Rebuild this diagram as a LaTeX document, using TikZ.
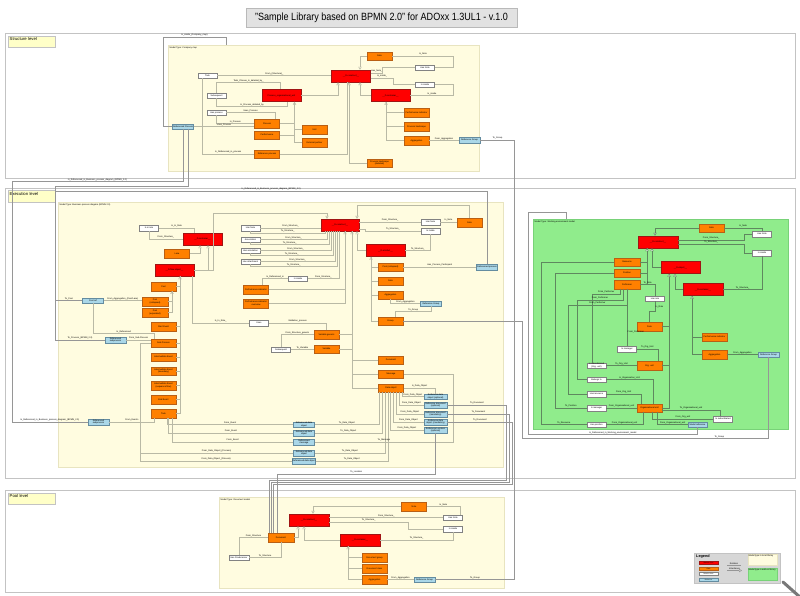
\documentclass[tikz,border=0pt]{standalone}
\usepackage{fontspec}
\usepackage{graphicx}
\setmainfont{Liberation Sans}
\usetikzlibrary{arrows.meta,shadows}

\definecolor{clsred}{RGB}{255,0,0}
\definecolor{clsline}{RGB}{160,20,20}
\definecolor{rclorange}{RGB}{255,128,0}
\definecolor{rclline}{RGB}{185,95,20}
\definecolor{relline}{RGB}{130,130,130}
\definecolor{refblue}{RGB}{170,215,232}
\definecolor{refline}{RGB}{100,140,160}
\definecolor{mtyellow}{RGB}{255,252,224}
\definecolor{mtline}{RGB}{232,228,192}
\definecolor{mtgreen}{RGB}{144,236,140}
\definecolor{mtgreenline}{RGB}{120,210,120}
\definecolor{linkgray}{RGB}{185,185,165}
\definecolor{glinkgray}{RGB}{95,135,95}
\definecolor{xlinkgray}{RGB}{150,150,150}
\definecolor{panelline}{RGB}{195,195,195}
\definecolor{lvlyellow}{RGB}{255,255,200}
\definecolor{titlegray}{RGB}{226,226,226}
\definecolor{titleline}{RGB}{185,185,185}
\definecolor{legendgray}{RGB}{215,215,215}
\definecolor{handlegray}{RGB}{120,120,120}

\newcommand\nano{\fontsize{2.2}{2.6}\selectfont}
\newcommand\mini{\fontsize{4.2}{5}\selectfont}

\begin{document}
\begin{tikzpicture}[x=1pt, y=-1pt]
	\tikzstyle{shade} = [drop shadow={shadow xshift=0.7pt, shadow yshift=-0.7pt, opacity=0.5, fill=black!50}];
	\tikzstyle{cls}  = [shade, draw=clsline, fill=clsred, minimum width=39pt, minimum height=12pt, inner sep=0pt, align=center, font={\nano}];
	\tikzstyle{rcl}  = [shade, draw=rclline, fill=rclorange, minimum width=25pt, minimum height=8.5pt, inner sep=0pt, align=center, font={\nano}];
	\tikzstyle{rel}  = [shade, draw=relline, fill=white, minimum width=19pt, minimum height=5.5pt, inner sep=0pt, align=center, font={\nano}];
	\tikzstyle{refn} = [shade, draw=refline, fill=refblue, minimum width=21pt, minimum height=5.5pt, inner sep=0pt, align=center, font={\nano}];
	\tikzstyle{link} = [draw=linkgray, line width=0.45pt];
	\tikzstyle{glink} = [draw=glinkgray, line width=0.45pt];
	\tikzstyle{xlink} = [draw=xlinkgray, line width=0.45pt];
	\tikzstyle{isa}  = [link, -{Triangle[open, length=3pt, width=3.4pt]}];
	\tikzstyle{gisa} = [glink, -{Triangle[open, length=3pt, width=3.4pt, fill=white]}];
	\tikzstyle{rl}   = [font={\nano}, inner sep=0.5pt, above];
	\tikzstyle{panel} = [draw=panelline, fill=white, line width=0.6pt];
	\tikzstyle{mtype} = [draw=mtline, fill=mtyellow];
	\tikzstyle{mtname} = [anchor=north west, inner sep=0.5pt, font={\nano}];
	\tikzstyle{lvl}  = [draw=panelline, fill=lvlyellow, anchor=north west, text width=44pt, text height=3pt, text depth=5.5pt, inner sep=1.5pt, align=left, font={\mini}];
	\tikzstyle{title} = [draw=titleline, fill=titlegray, minimum width=271pt, minimum height=19pt, inner sep=0pt, font={\fontsize{10.5}{12}\selectfont}];

	\useasboundingbox (0,0) rectangle (800,596);
	\fill[white] (0,0) rectangle (800,596);

	\node[title] (title) at (381.5,17.5) {\scalebox{0.86}[1]{"Sample Library based on BPMN 2.0" for ADOxx 1.3UL1 - v.1.0}};

	\draw[panel] (5,33) rectangle (795,178);
	\draw[panel] (5,188) rectangle (795,478);
	\draw[panel] (5,490) rectangle (795,592);
	\node[lvl] (lvlS) at (8,36) {Structure level};
	\node[lvl] (lvlE) at (8,190.5) {Execution level};
	\node[lvl] (lvlP) at (8,492.5) {Pool level};

	\draw[mtype] (168,45) rectangle (479,171);
	\draw[mtype] (58,202) rectangle (503,467);
	\draw[draw=mtgreenline, fill=mtgreen] (533,219) rectangle (788,429);
	\draw[mtype] (219,497) rectangle (504,588);
	\node[mtname] (mtS) at (169,46) {Model Type: Company map};
	\node[mtname] (mtE) at (59,203) {Model Type: Business process diagram (BPMN 2.0)};
	\node[mtname] (mtG) at (534,220) {Model Type: Working environment model};
	\node[mtname] (mtP) at (220,498) {Model Type: Document model};

	% structure level
	\node[rcl] (sNote) at (379.5,56) {Note};
	\node[cls] (sA) at (351,76) {\_\_D-construct\_\_};
	\node[rel] (sSee) at (425,67.5) {Has Note};
	\node[rel] (sIns) at (425,84.5) {Is inside};
	\node[cls] (sB) at (281.5,95.5) {Process\_organisational\_unit};
	\node[cls] (sC) at (390.5,95.5) {\_\_D-container\_\_};
	\node[rel] (sTask) at (207.5,75.5) {Task};
	\node[rel] (sRep) at (216.5,95.5) {Subsequent};
	\node[rel] (sHas) at (216.5,112.5) {Has process};
	\node[refn] (sRef) at (183,126.5) {Referenced Process};
	\node[rcl] (sProc) at (267,123.5) {Process};
	\node[rcl] (sLand) at (267,135) {Performance};
	\node[rcl] (sUnit) at (314.5,129.5) {Unit};
	\node[rcl] (sExt) at (314.5,142.5) {External partner};
	\node[rcl] (sRefl) at (267,154) {Reference process};
	\node[rcl] (sDesc) at (379.5,163) {Process landscape\\(detailed)};
	\node[rcl] (sOr6) at (416.5,112.5) {Performance indicator};
	\node[rcl] (sOr7) at (416.5,126.5) {Process landscape};
	\node[rcl] (sOr8) at (416.5,140.5) {Aggregation};
	\node[refn] (sGrp) at (469.5,140) {Reference Group};
	\coordinate (sTop) at (226,45);

	\draw[isa] (sNote.west) -| ([xshift=9pt]sA.north);
	\draw[link] ([yshift=3pt]sA.east) -- node[rl]{Has\_Note\_} ++(12,0) |- (sSee.west);
	\draw[link] (sSee.east) -- ++(19,0) |- node[rl,pos=0.75]{Is\_Note} (sNote.east);
	\draw[link] ([yshift=-2pt]sA.east) -- node[rl]{Is\_inside\_} ++(23,0) |- (sIns.west);
	\draw[link] (sIns.east) -- ++(19,0) |- node[rl,pos=0.75]{Is\_inside} (sC.east);
	\draw[isa] (sC.west) -| ([xshift=9pt]sA.south);
	\draw[isa] (sB.east) -| ([xshift=-13pt]sA.south);
	\draw[isa] (sDesc.west) -| ([xshift=-2pt]sA.south);
	\draw[link] (sRefl.east) -| ([xshift=-4pt]sA.south);
	\draw[link] (sTask.east) -- node[rl]{From\_(Structure)\_} (sTask.east -| sA.west);
	\draw[link] ([xshift=-5.5pt]sTask.south) |- node[rl,pos=0.75]{Is\_Referenced\_in\_process} (sRefl.west);
	\draw[link] (sRep.north) -- ++(0,-10) -| node[rl,pos=0.25]{Task\_Choose\_Is\_detailed\_by\_} ([xshift=-1pt]sB.north);
	\draw[link] (sRep.south) -- ++(0,8) -| node[rl,pos=0.25]{Is\_Process\_detailed\_by} ([xshift=6pt]sB.south);
	\draw[link] (sHas.east) -| node[rl,pos=0.25]{Uses\_Process} ([xshift=8pt]sProc.north);
	\draw[link] (sHas.south) |- node[rl,pos=0.75]{Is\_Process} (sProc.west);
	\draw[link] (sRef.east) -- node[rl]{Uses\_Process} (sRef.east -| sProc.west);
	\draw[link] (sProc.east) -| ([xshift=13pt]sB.south);
	\draw[link] (sLand.east) -| ([xshift=13pt]sB.south);
	\draw[link] (sUnit.west) -| ([xshift=13pt]sB.south);
	\draw[isa] (sExt.west) -| ([xshift=13pt]sB.south);
	\draw[link] (sOr6.west) -| ([xshift=-4.5pt]sC.south);
	\draw[link] (sOr7.west) -| ([xshift=-4.5pt]sC.south);
	\draw[isa] (sOr8.west) -| ([xshift=-4.5pt]sC.south);
	\draw[link] (sOr8.east) -- node[rl]{From\_Aggregation} (sOr8.east -| sGrp.west);
	\draw[xlink] (sRef.west) -| (163,37) -| node[rl,pos=0.25]{Is\_inside\_(Company\_map)} (sTop);

	% execution level
	\node[rel] (eW1) at (149,228) {Is in role};
	\node[cls] (eD) at (202.5,239) {\_\_D-container\_\_};
	\node[rcl] (eOr1) at (177,253.5) {Lane};
	\node[cls] (eE) at (174.5,270) {\_\_D-flow-object\_\_};
	\node[rcl] (eOr2) at (163.5,286.5) {Pool};
	\node[rcl, minimum width=26pt] (eOr3) at (155,301.5) {Pool\\(collapsed)};
	\node[rcl, minimum width=26pt] (eOr4) at (155,312.5) {Pool\\(expanded)};
	\foreach \n/\y/\t in {5/326.5/{Start Event}, 6/343/{Sub-Process}, 7/357/{Intermediate Event}, 8/371/{Intermediate Event\\(boundary)}, 9/385.5/{Intermediate Event\\(sequence flow)}, 10/399.5/{End Event}, 11/413.5/{Task}}
		\node[rcl] (eOr\n) at (163.5,\y) {\t};
	\node[refn] (eRef1) at (93,300.5) {Pool ref};
	\node[refn] (eRef2) at (115.5,340) {Referenced\\subprocess};
	\node[refn] (eRef3) at (98.5,422) {Referenced\\subprocess};
	\node[rel] (eWc1) at (250.5,228) {Has Note};
	\node[rel] (eWc2) at (250.5,239.5) {Association};
	\node[rel] (eWc3) at (250.5,250.5) {Has annotation};
	\node[rel] (eWc4) at (250.5,261.5) {Has attachment};
	\node[cls, minimum width=38pt] (eF) at (340,225) {\_\_D-construct\_\_};
	\node[rel] (eW5) at (298,278.5) {Is inside};
	\node[rcl] (eOr12) at (256,289.5) {Performance indicator};
	\node[rcl] (eOr13) at (256,303.5) {Performance indicator\\overview};
	\node[rel] (eW6) at (259,323) {Uses};
	\node[rel] (eW7) at (430.5,222) {Has Note};
	\node[rel] (eW8) at (430.5,231) {Is inside};
	\node[rcl] (eOr14) at (469.5,222.5) {Note};
	\node[cls] (eG) at (385.5,250.5) {\_\_D-artefact\_\_};
	\node[rcl] (eOr15) at (390.5,267) {Pool (collapsed)};
	\node[rcl] (eOr16) at (390.5,281) {Note};
	\node[rcl] (eOr17) at (390.5,295) {Aggregation};
	\node[rcl] (eOr18) at (390.5,321) {Group};
	\node[refn] (eRef4) at (487,267) {Referenced process};
	\node[refn] (eRef5) at (431,303.5) {Reference Group};
	\node[rcl] (eOr19) at (326.5,334.5) {Variable generic};
	\node[rcl] (eOr20) at (326.5,349) {Variable};
	\node[rel] (eW9) at (281,349.5) {Subsequent};
	\node[rcl] (eOr21) at (391,360) {Document};
	\node[rcl] (eOr22) at (391,374) {Message};
	\node[rcl] (eOr23) at (391,388) {Data object};
	\foreach \n/\y/\t in {6/396.5/{Reference data\\object (optional)}, 7/405/{Reference document\\(optional)}, 8/414/{Reference document\\(mandatory)}, 9/422/{Reference data\\object (mandatory)}, 10/430/{Reference Location\\(optional)}}
		\node[refn, minimum width=23pt] (eRef\n) at (435.5,\y) {\t};
	\foreach \n/\y/\t in {11/424.5/{Referenced data\\object}, 12/433/{Referenced data\\object}, 13/442/{Referenced\\message}, 14/453/{Referenced data\\object}, 15/461/{Referenced data object}}
		\node[refn] (eRef\n) at (304,\y) {\t};

	\draw[link] (eW1.east) -| node[rl,pos=0.25]{Is\_In\_Role} ([xshift=-8pt]eD.north);
	\draw[link] (eW1.south) |- node[rl,pos=0.75]{From\_Structure\_} (eD.west);
	\draw[isa] (eOr1.east) -| ([xshift=-2.5pt]eD.south);
	\draw[isa] (eE.east) -| ([xshift=5.5pt]eD.south);
	\draw[isa] (eE.east) -| (213,213) -| ([xshift=-13pt]eF.north);
	\foreach \n in {2,5,6,7,8,9,10}
		\draw[link] (eOr\n.east) -| ([xshift=5.5pt]eE.south);
	\draw[isa] (eOr11.east) -| ([xshift=5.5pt]eE.south);
	\draw[link] (eOr3.east) -| ([xshift=8.5pt]eOr2.south);
	\draw[isa] (eOr4.east) -| ([xshift=8.5pt]eOr2.south);
	\draw[link] ([xshift=17.5pt]eE.south) |- node[rl,pos=0.75]{Is\_In\_Role\_} (eW6.west);
	\draw[link] (eW6.east) -| node[rl,pos=0.25]{Validation\_process} (eOr19.north);
	\draw[link] (eRef1.east) -- node[rl]{From\_Aggregation\_(Pool/Lane)} (eRef1.east -| eOr3.west);
	\draw[link] (eRef1.south) |- node[rl,pos=0.75]{Is\_Referenced} ([xshift=-9pt,yshift=5pt]eOr6.north) -- ([xshift=-9pt]eOr6.north);
	\draw[link] (eRef2.east) -- node[rl]{From\_Sub-Process} (eRef2.east -| eOr6.west);
	\draw[link] (eRef3.east) -| node[rl,pos=0.25]{From\_Events} ([xshift=-9pt]eOr11.south);
	\draw[link] ([xshift=3.5pt]eOr11.south) |- node[rl,pos=0.75]{From\_Event} (eRef11.west);
	\draw[link] ([xshift=5pt]eOr11.south) |- node[rl,pos=0.75]{From\_Event} (eRef12.west);
	\draw[link] ([xshift=8.5pt]eOr11.south) |- node[rl,pos=0.75]{From\_Event} (eRef13.west);
	\draw[link] (eOr6.west) -- ++(-11,0) |- node[rl,pos=0.75]{From\_Data\_Object\_(Process)} (eRef14.west);
	\draw[link] (eOr6.west) -- ++(-11,0) |- node[rl,pos=0.75]{From\_Data\_Object\_(Process)} (eRef15.west);
	\foreach \n/\dx in {11/-12, 12/-9, 14/-6, 15/-3}
		\draw[link] (eRef\n.east) -| node[rl,pos=0.25]{To\_Data\_Object} ([xshift=\dx pt]eOr23.south);
	\draw[link] (eRef13.east) -| node[rl,pos=0.25]{To\_Message} ([xshift=49.5pt]eOr22.east) -- (eOr22.east);
	\foreach \n/\dx in {6/11, 7/8, 8/5, 9/2, 10/-1}
		\draw[link] ([xshift=\dx pt]eOr23.south) |- node[rl,pos=0.75]{From\_Data\_Object} (eRef\n.west);
	\draw[link] (eOr23.east) -| node[rl,pos=0.25]{Is\_Data\_Object} (eRef6.north);
	\draw[link] (eWc1.east) -- node[rl]{From\_Structure\_} (eWc1.east -| eF.west);
	\draw[link] (eWc1.south) -- ++(0,2) -| node[rl,pos=0.25]{To\_Structure\_} ([xshift=-15pt]eF.south);
	\foreach \n/\xa/\xb in {2/-13/-11, 3/-9/-7, 4/-5/-3} {
		\draw[link] (eWc\n.east) -| node[rl,pos=0.25]{From\_Structure\_} ([xshift=\xa pt]eF.south);
		\draw[link] (eWc\n.south) -- ++(0,2) -| node[rl,pos=0.25]{To\_Structure\_} ([xshift=\xb pt]eF.south);
	}
	\draw[link] (eW5.east) -| node[rl,pos=0.25]{From\_Structure\_} ([xshift=-1pt]eF.south);
	\draw[link] (eW5.west) -| node[rl,pos=0.25]{Is\_Referenced\_in} ([xshift=6pt]eOr12.north);
	\draw[isa] (eOr12.east) -| ([xshift=5pt]eF.south);
	\draw[link] (eOr13.east) -| ([xshift=5pt]eF.south);
	\draw[isa] (eOr14.north) |- ([xshift=17pt, yshift=14pt]eF.north) -- ([xshift=17pt]eF.north);
	\draw[link] (eF.east |- eW7.west) -- node[rl]{From\_Structure\_} (eW7.west);
	\draw[link] ([yshift=-4pt]eF.east) -- ++(6,0) |- node[rl,pos=0.75]{To\_Structure\_} (eW8.west);
	\draw[link] (eW7.east) -- node[rl]{Is\_Note} (eW7.east -| eOr14.west);
	\draw[link] (eW8.south) |- node[rl,pos=0.75]{To\_Structure\_} (eG.east);
	\draw[isa] (eG.west) -| ([xshift=17pt]eF.south);
	\foreach \n in {15,16,17}
		\draw[link] (eOr\n.west) -| ([xshift=-14.5pt]eG.south);
	\draw[isa] (eOr18.west) -| ([xshift=-14.5pt]eG.south);
	\draw[link] (eOr15.east) -- node[rl]{Has\_Process\_Participant} (eOr15.east -| eRef4.west);
	\draw[link] (eOr17.south) |- node[rl,pos=0.75]{From\_Aggregation} (eRef5.west);
	\draw[link] (eRef5.south) |- node[rl,pos=0.75]{To\_Group} ([xshift=5pt,yshift=5pt]eOr18.north) -- ([xshift=5pt]eOr18.north);
	\draw[isa] (eOr19.east) -| ([xshift=12pt]eF.south);
	\draw[link] (eOr20.east) -| ([xshift=12pt]eF.south);
	\foreach \n in {21,22,23}
		\draw[link] (eOr\n.west) -| ([xshift=12pt]eF.south);
	\draw[link] (eW9.north) |- node[rl,pos=0.75]{From\_Structure\_generic} (eOr19.west);
	\draw[link] (eW9.east) -- node[rl]{To\_Variable} (eW9.east -| eOr20.west);

	% working environment
	\node[rcl] (gOr1) at (711.5,228) {Note};
	\node[rel] (gW1) at (762,234) {Has Note};
	\node[cls, minimum width=40pt] (gH) at (658,242) {\_\_D-construct\_\_};
	\node[rel] (gW2) at (762,253) {Is inside};
	\node[rcl, minimum width=26pt] (gOr2) at (627,262) {Resource};
	\node[cls] (gI) at (680.5,267.5) {\_\_D-object\_\_};
	\node[rcl, minimum width=26pt] (gOr3) at (627,273) {Position};
	\node[rcl, minimum width=26pt] (gOr4) at (627,284.5) {Performer};
	\node[cls, minimum width=40pt] (gJ) at (703,289.5) {\_\_D-container\_\_};
	\node[rel] (gW3) at (655,298.5) {Has role};
	\node[rcl] (gOr5) at (649.5,326.5) {Role};
	\node[rcl] (gOr6) at (714.5,337) {Performance indicator};
	\node[rel] (gW4) at (627,349) {Is manager};
	\node[rcl] (gOr7) at (714.5,354.5) {Aggregation};
	\node[refn] (gRef1) at (768.5,354.5) {Reference Group};
	\node[rel] (gW5) at (596.5,365.5) {Is subordinated\\(Org. unit)};
	\node[rcl] (gOr8) at (649.5,365.5) {Org. unit};
	\node[rel] (gW6) at (596.5,379.5) {Belongs to};
	\node[rel] (gW7) at (596.5,394) {Has resource};
	\node[rel] (gW8) at (596.5,408) {Is manager};
	\node[rcl] (gOr9) at (649.5,408) {Organisational unit};
	\node[rel] (gW9) at (723,419) {Is subordinated};
	\node[rel] (gW10) at (596.5,424.5) {Has position};
	\node[refn, minimum width=19pt] (gRef2) at (697.5,424.5) {Model reference};
	\coordinate (gTop) at (566,219);

	\draw[gisa] (gOr1.west) -| ([xshift=-3pt]gH.north);
	\draw[glink] (gOr1.east) -| node[rl,pos=0.25]{Is\_Note} (gW1.north);
	\draw[glink] ([yshift=2pt]gH.east) -- node[rl]{From\_Structure\_} ++(66,0) |- (gW1.west);
	\draw[glink] ([yshift=-2pt]gH.east) -- node[rl]{To\_Structure\_} ++(66,0) |- (gW2.west);
	\draw[gisa] (gI.west) -| ([xshift=-6pt]gH.south);
	\draw[glink] (gOr2.east) -| ([xshift=-11pt]gH.south);
	\draw[glink] (gOr3.east) -| ([xshift=-11pt]gH.south);
	\draw[gisa] (gOr4.east) -| ([xshift=-11pt]gH.south);
	\draw[gisa] (gJ.west) -| ([xshift=-5.5pt]gI.south);
	\draw[glink] (gW2.south) |- node[rl,pos=0.75]{To\_Structure\_} (gJ.east);
	\draw[glink] (gOr6.west) -| ([xshift=-11pt]gJ.south);
	\draw[gisa] (gOr7.west) -| ([xshift=-11pt]gJ.south);
	\draw[glink] (gOr7.east) -- node[rl]{From\_Aggregation} (gOr7.east -| gRef1.west);
	\draw[glink] (gOr5.east) -| ([xshift=-11.5pt]gI.south);
	\draw[glink] (gOr8.east) -| ([xshift=-11.5pt]gI.south);
	\draw[gisa] (gOr9.east) -| ([xshift=-11.5pt]gI.south);
	\draw[glink] (gOr2.west) -| ([xshift=-46pt]gW10.west) -- node[rl]{To\_Resource} (gW10.west);
	\draw[glink] (gOr3.west) -| ([xshift=-32pt]gW8.west) -- node[rl]{To\_Position} (gW8.west);
	\draw[glink] ([xshift=-7pt]gOr4.south) -- ++(0,5) -| node[rl,pos=0.25]{From\_Performer} ([xshift=-4pt]gW5.north);
	\draw[glink] ([xshift=-4pt]gOr4.south) -- ++(0,11) -| node[rl,pos=0.25]{From\_Performer} ([xshift=-10pt]gW6.west) -- (gW6.west);
	\draw[glink] (gOr4.south) -- ++(0,16) -| node[rl,pos=0.25]{From\_Performer} ([xshift=-19pt]gW7.west) -- (gW7.west);
	\draw[glink] (gOr4.south) -- node[rl,right,pos=0.75]{From\_Performer} (gW4.north);
	\draw[glink] (gOr4.east) -| node[rl,pos=0.25]{To\_Role} (gW3.north);
	\draw[glink] (gW3.south) -- node[rl,right]{Is\_Role} ++(0,10) -| (gOr5.north);
	\draw[glink] (gW4.east) -| node[rl,pos=0.25]{To\_Org\_Unit} ([xshift=8.5pt]gOr8.north);
	\draw[glink] (gW5.east) -- node[rl]{To\_Org\_Unit} (gW5.east -| gOr8.west);
	\draw[glink] (gW6.east) -| node[rl,pos=0.25]{Is\_Organisation\_Unit} ([xshift=3.5pt]gOr9.north);
	\draw[glink] (gW7.east) -| node[rl,pos=0.25]{From\_Org\_Unit} ([xshift=-8.5pt]gOr9.north);
	\draw[glink] (gW8.east) -- node[rl]{From\_Organisational\_unit} (gW8.east -| gOr9.west);
	\draw[glink] (gW10.east) -| node[rl,pos=0.25]{From\_Organisational\_unit} ([xshift=-6.5pt]gOr9.south);
	\draw[glink] ([yshift=-2pt]gOr9.east) -| node[rl,pos=0.25]{To\_Organisational\_unit} ([xshift=-3pt]gW9.north);
	\draw[glink] ([xshift=3pt]gOr9.south) |- node[rl,pos=0.75]{From\_Org\_unit} (gW9.west);
	\draw[glink] ([xshift=8pt]gOr9.south) |- node[rl,pos=0.75]{From\_Organisational\_unit} (gRef2.west);

	% pool level
	\node[rcl] (pOr1) at (414,506.5) {Note};
	\node[rel] (pW1) at (453,517.5) {Has Note};
	\node[cls, minimum width=40pt] (pK) at (309,520) {\_\_D-construct\_\_};
	\node[rel] (pW2) at (453,529) {Is inside};
	\node[rcl, minimum width=26pt] (pOr2) at (281,537.5) {Document};
	\node[cls, minimum width=40pt] (pL) at (360,540) {\_\_D-container\_\_};
	\node[rel, minimum width=20pt] (pW3) at (239,557.5) {Has Predecessor};
	\node[rcl] (pOr3) at (374.5,557.5) {Document group};
	\node[rcl] (pOr4) at (374.5,568.5) {Document class};
	\node[rcl] (pOr5) at (374.5,579.5) {Aggregation};
	\node[refn] (pRef) at (424.5,579.5) {Reference Group};

	\draw[isa] (pOr1.west) -| ([xshift=4pt]pK.north);
	\draw[link] (pOr1.east) -| node[rl,pos=0.25]{Is\_Note} ([xshift=7pt]pW1.north);
	\draw[link] (pK.east |- pW1.west) -- node[rl]{From\_Structure\_} (pW1.west);
	\draw[link] ([yshift=-2pt]pK.east) -- node[rl]{To\_Structure\_} ++(79,0) |- (pW2.west);
	\draw[link] (pL.east) -| node[rl,pos=0.25]{To\_Structure\_} (pW2.south);
	\draw[isa] (pL.west) -| ([xshift=-5pt]pK.south);
	\draw[isa] (pOr2.east) -| ([xshift=-11pt]pK.south);
	\draw[link] (pW3.north) |- node[rl,pos=0.75]{From\_Structure} (pOr2.west);
	\draw[link] (pW3.east) -| node[rl,pos=0.25]{To\_Structure} (pOr2.south);
	\draw[link] (pOr3.west) -| ([xshift=-12pt]pL.south);
	\draw[link] (pOr4.west) -| ([xshift=-12pt]pL.south);
	\draw[isa] (pOr5.west) -| ([xshift=-12pt]pL.south);
	\draw[link] (pOr5.east) -- node[rl]{From\_Aggregation} (pOr5.east -| pRef.west);

	% between levels
	\draw[xlink] (sRef.south) -- ++(0,52) -| node[rl,pos=0.25]{Is\_Referenced\_in\_Business\_process\_diagram\_(BPMN\_2.0)} ([xshift=-76pt]eRef3.west) -- node[rl]{Is\_Referenced\_in\_Business\_process\_diagram\_(BPMN\_2.0)} (eRef3.west);
	\draw[xlink] (eRef1.west) -- node[rl]{To\_Pool} ++(-27,0) |- ([xshift=5pt,yshift=-56.5pt]sRef.south) -- ([xshift=5pt]sRef.south);
	\draw[xlink] (eRef2.west) -- node[rl]{To\_Process\_(BPMN\_2.0)} ++(-49.5,0) |- node[rl,pos=0.75]{Is\_Referenced\_in\_Business\_process\_diagram\_(BPMN\_2.0)} ([yshift=73pt]eRef4.north) -- (eRef4.north);
	\draw[xlink] (sGrp.east) -- node[rl]{To\_Group} ++(34.5,0) |- node[rl,pos=0.75]{To\_Group} (pRef.east);
	\draw[xlink] (eOr18.east) -- ++(119.5,0) |- node[rl,pos=0.9]{To\_Group} ([yshift=-80.75pt]gRef1.south) -- (gRef1.south);
	\draw[xlink] (gRef2.south) -- ++(0,7.25) -| node[rl,pos=0.25]{Is\_Referenced\_in\_Working\_environment\_model} ([xshift=-38pt,yshift=7pt]gTop) -| (gTop);
	\draw[xlink] (eRef7.east) -- node[rl]{To\_Document} ++(59.5,0) |- ([xshift=-12pt,yshift=53.25pt]pOr2.north) -- ([xshift=-12pt]pOr2.north);
	\draw[xlink] (eRef8.east) -- node[rl]{To\_Document} ++(62.5,0) |- ([xshift=-10pt,yshift=51.25pt]pOr2.north) -- ([xshift=-10pt]pOr2.north);
	\draw[xlink] (eRef9.east) -- node[rl]{To\_Document} ++(65.5,0) |- ([xshift=-8pt,yshift=49.25pt]pOr2.north) -- ([xshift=-8pt]pOr2.north);
	\draw[xlink] (eRef10.south) |- node[rl,pos=0.75]{To\_Location} ([xshift=-4pt,yshift=59.25pt]pOr2.north) -- ([xshift=-4pt]pOr2.north);

	% legend
	\node[draw=panelline, fill=legendgray, minimum width=86pt, minimum height=30pt, inner sep=0pt] (legend) at (737,568) {};
	\node[anchor=west, inner sep=0pt, font={\fontsize{3.8}{4.2}\selectfont\bfseries}] (legT) at (696,557) {Legend};
	\node[cls, minimum width=19pt, minimum height=3pt, font={\fontsize{1.6}{1.8}\selectfont}] (legA) at (708.5,563) {Abstract class};
	\node[rcl, minimum width=19pt, minimum height=3pt, font={\fontsize{1.6}{1.8}\selectfont}] (legB) at (708.5,568.5) {Class};
	\node[rel, minimum width=19pt, minimum height=3pt, font={\fontsize{1.6}{1.8}\selectfont}] (legC) at (708.5,573.5) {Relation class};
	\node[refn, minimum width=19pt, minimum height=3pt, font={\fontsize{1.6}{1.8}\selectfont}] (legD) at (708.5,579.5) {Reference};
	\coordinate (legR1) at (727,565);
	\coordinate (legR2) at (741,565);
	\coordinate (legI1) at (727,570.5);
	\coordinate (legI2) at (742,570.5);
	\draw[xlink] (legR1) -- node[rl]{Relation} (legR2);
	\draw[xlink, -{Triangle[open, length=3pt, width=3.4pt]}] (legI1) -- node[rl]{Inheritance} (legI2);
	\node[mtype, minimum width=29pt, minimum height=11pt, inner sep=0pt] (legY) at (762.5,559.5) {};
	\node[mtname] at (legY.north west) {Model type in local library};
	\node[draw=mtgreenline, fill=mtgreen, minimum width=29pt, minimum height=12pt, inner sep=0pt] (legG) at (762.5,574) {};
	\node[mtname] at (legG.north west) {Model type in add-on library};
	\draw[handlegray, line width=3pt, line cap=round] (783,582) -- (801,598);
\end{tikzpicture}
\end{document}
